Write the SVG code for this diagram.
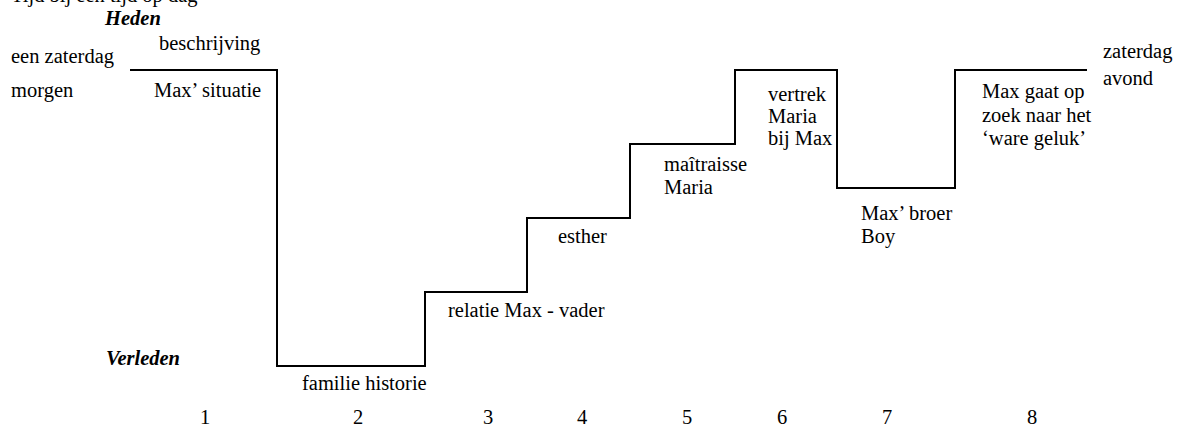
<svg xmlns="http://www.w3.org/2000/svg" width="1181" height="427" viewBox="0 0 1181 427">
<style>
.t{font-family:"Liberation Serif","Times New Roman",serif;font-size:20.5px;fill:#000}
.bi{font-weight:bold;font-style:italic}
.num{text-anchor:middle}
.step{fill:none;stroke:#000;stroke-width:2;stroke-linejoin:miter}
</style>
<rect width="1181" height="427" fill="#fff"/>
<g id="title"><text class="t" x="11" y="1.5">Tijd bij een tijd op dag</text></g>
<g id="heden"><text class="t bi" x="105" y="25">Heden</text></g>
<g id="verleden"><text class="t bi" x="106" y="365">Verleden</text></g>
<g id="start"><text class="t" x="11" y="63">een zaterdag</text><text class="t" x="11" y="97">morgen</text></g>
<g id="end"><text class="t" x="1103" y="58">zaterdag</text><text class="t" x="1103" y="85">avond</text></g>
<g id="node1"><text class="t" x="159" y="50">beschrijving</text><text class="t" x="154" y="97">Max’ situatie</text></g>
<g id="node2"><text class="t" x="302" y="390">familie historie</text></g>
<g id="node3"><text class="t" x="448" y="317">relatie Max - vader</text></g>
<g id="node4"><text class="t" x="558" y="243">esther</text></g>
<g id="node5"><text class="t" x="664" y="171">maîtraisse</text><text class="t" x="664" y="194">Maria</text></g>
<g id="node6"><text class="t" x="768" y="101">vertrek</text><text class="t" x="768" y="123">Maria</text><text class="t" x="768" y="145">bij Max</text></g>
<g id="node7"><text class="t" x="861" y="220">Max’ broer</text><text class="t" x="861" y="243">Boy</text></g>
<g id="node8"><text class="t" x="982" y="98">Max gaat op</text><text class="t" x="982" y="122">zoek naar het</text><text class="t" x="982" y="145">‘ware geluk’</text></g>
<g id="numbers">
<text class="t num" x="205" y="424">1</text>
<text class="t num" x="358" y="424">2</text>
<text class="t num" x="488" y="424">3</text>
<text class="t num" x="582" y="424">4</text>
<text class="t num" x="687" y="424">5</text>
<text class="t num" x="782" y="424">6</text>
<text class="t num" x="887" y="424">7</text>
<text class="t num" x="1032" y="424">8</text>
</g>
<g id="connectors">
<polyline class="step" points="130,70 277,70 277,366 425,366 425,292 527,292 527,218 630,218 630,144 735,144 735,70 837,70 837,188 955,188 955,70 1087,70"/>
</g>
</svg>
